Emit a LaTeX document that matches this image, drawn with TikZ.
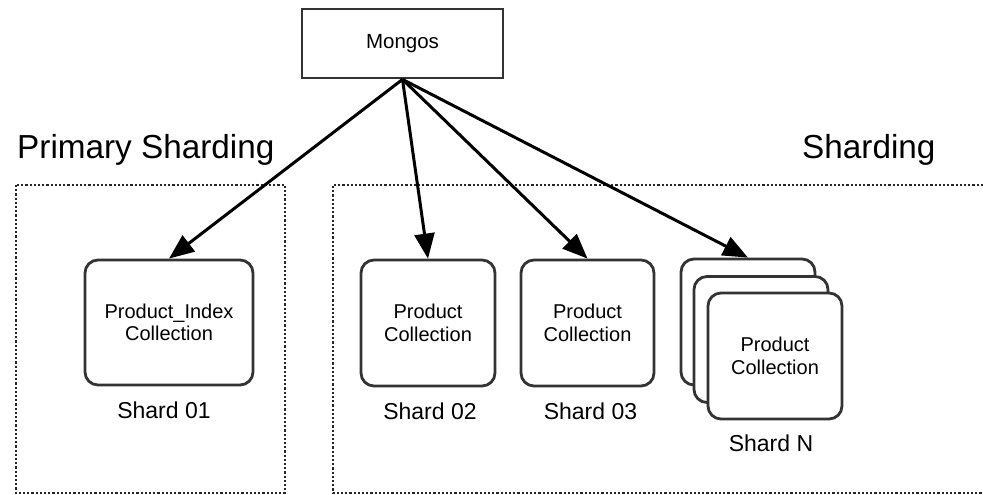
\documentclass[tikz,border=0pt]{standalone}
\usepackage{fontspec}
\setmainfont{Liberation Sans}
\usetikzlibrary{arrows.meta,positioning}

\tikzset{
  shardbox/.style={draw=black!80, line width=2.8pt, rounded corners=13pt, fill=white,
                   align=center, font=\fontsize{20}{22.5}\selectfont},
  shardlabel/.style={inner sep=0pt, font=\fontsize{23}{26}\selectfont},
  groupline/.style={draw=black!85, line width=2.8pt, dash pattern=on 2.2pt off 2pt},
  route/.style={line width=3pt, -{Triangle[length=25pt,width=20pt]}}
}

\begin{document}
\begin{tikzpicture}[x=1pt, y=-1pt]
        \useasboundingbox (0,0) rectangle (983,495);

      % the two groups
      \draw [groupline] (16,185) rectangle (285,493);
      \draw [groupline] (983,185) -- (333,185) -- (333,493) -- (983,493);

       \node [inner sep=0pt, anchor=base west, font=\fontsize{33.3}{38}\selectfont] (primtitle) at (17,158) {Primary Sharding};
       \node [inner sep=0pt, anchor=base west, font=\fontsize{33.3}{38}\selectfont] (shardtitle) at (802,158) {Sharding};

       \node [draw=black!80, line width=2.8pt, minimum width=201pt, minimum height=69pt,
              font=\fontsize{20.5}{22}\selectfont] (mongos) at (402.5,43.5) {Mongos};

        \node [shardbox, minimum width=168pt, minimum height=125pt] (s01) at (169,322.5) {Product\_Index\\Collection};
        \node [shardbox, minimum width=134pt, minimum height=126pt] (s02) at (428,323) {Product\\Collection};
        \node [shardbox, minimum width=133pt, minimum height=126pt] (s03) at (587.5,323) {Product\\Collection};

        % stacked shards
        \node [shardbox, minimum width=134pt, minimum height=126pt] (snback) at (748,322) {};
        \node [shardbox, minimum width=134pt, minimum height=126pt] (snmid) at (761,339.5) {};
        \node [shardbox, minimum width=134pt, minimum height=126pt] (sn) at (775,356) {Product\\Collection};

         \node [shardlabel, below=15pt of s01, xshift=-5pt] (l01) {Shard 01};
         \node [shardlabel, below=15pt of s02, xshift=2pt] (l02) {Shard 02};
         \node [shardlabel, below=15pt of s03, xshift=3pt] (l03) {Shard 03};
         \node [shardlabel, below=14pt of sn, xshift=-4pt] (lN) {Shard N};

      \draw [route] (mongos.south) -- (s01.north);
      \draw [route] (mongos.south) -- (s02.north);
      \draw [route] (mongos.south) -- (s03.north);
      \draw [route] (mongos.south) -- (snback.north);

    \end{tikzpicture}
\end{document}
